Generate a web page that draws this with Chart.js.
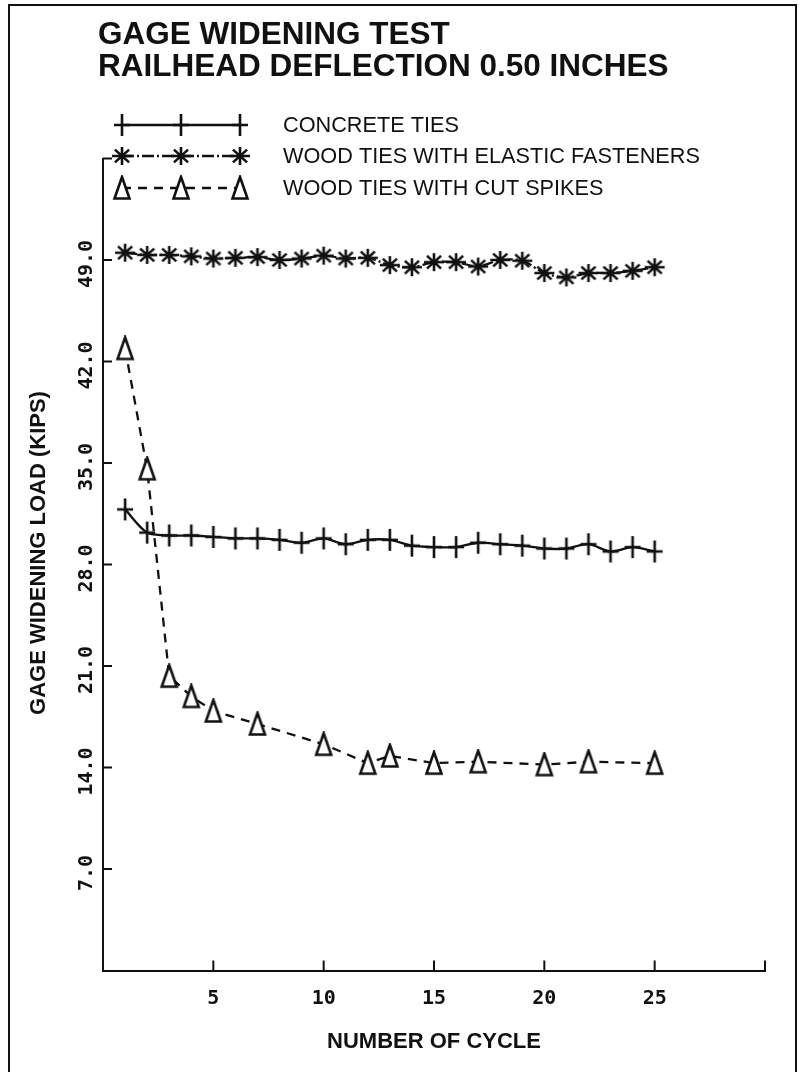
<!DOCTYPE html>
<html>
<head>
<meta charset="utf-8">
<title>Gage widening test</title>
<script src="https://cdn.jsdelivr.net/npm/chart.js@4/dist/chart.umd.min.js"></script>
<style>
  html, body { margin: 0; padding: 0; background: #fff; }
  #wrap { position: relative; width: 801px; height: 1072px; overflow: hidden; }
  #frame { position: absolute; left: 8px; top: 4px; width: 785px; height: 1100px;
           border: 2px solid #111; pointer-events: none; }
  canvas { display: block; }
</style>
</head>
<body>
<div id="wrap">
  <canvas id="chart" width="801" height="1072"></canvas>
  <div id="frame"></div>
</div>
<script>
// data
const cycles = [1, 2, 3, 4, 5, 6, 7, 8, 9, 10, 11, 12, 13, 14, 15, 16, 17, 18, 19, 20, 21, 22, 23, 24, 25];
const concreteLoad = [31.8, 30.2, 30.0, 30.0, 29.9, 29.8, 29.8, 29.7, 29.5, 29.8, 29.4, 29.7, 29.7,
                      29.3, 29.2, 29.2, 29.5, 29.4, 29.3, 29.1, 29.1, 29.4, 28.9, 29.2, 28.9];
const elasticLoad = [49.5, 49.35, 49.35, 49.25, 49.1, 49.15, 49.2, 49.0, 49.1, 49.3, 49.1, 49.15, 48.65,
                     48.5, 48.85, 48.85, 48.55, 49.0, 48.95, 48.1, 47.8, 48.1, 48.1, 48.25, 48.5];
const spikeCycles = [1, 2, 3, 4, 5, 7, 10, 12, 13, 15, 17, 20, 22, 25];
const spikeLoad = [42.9, 34.6, 20.3, 18.9, 17.9, 17.0, 15.6, 14.3, 14.8, 14.3, 14.4, 14.2, 14.4, 14.3];

const seriesNames = ['CONCRETE TIES', 'WOOD TIES WITH ELASTIC FASTENERS', 'WOOD TIES WITH CUT SPIKES'];
const xTicks = [5, 10, 15, 20, 25];
const yTicks = [7, 14, 21, 28, 35, 42, 49];
const titleLines = ['GAGE WIDENING TEST', 'RAILHEAD DEFLECTION 0.50 INCHES'];
const xTitle = 'NUMBER OF CYCLE';
const yTitle = 'GAGE WIDENING LOAD (KIPS)';

const INK = '#111';
const SANS = '"Liberation Sans", Arial, Helvetica, sans-serif';
const MONO = '"DejaVu Sans Mono", "Liberation Mono", monospace';

// plotter style markers
function marker(kind) {
  const c = document.createElement('canvas');
  c.width = 22; c.height = 26;
  const g = c.getContext('2d');
  const cx = 11, cy = 13;
  g.strokeStyle = INK;
  g.lineWidth = 2.6;
  g.beginPath();
  if (kind === 'plus') {
    g.moveTo(cx, cy - 11); g.lineTo(cx, cy + 11);
    g.moveTo(cx - 8, cy); g.lineTo(cx + 8, cy);
    g.stroke();
  } else if (kind === 'star') {
    for (let k = 0; k < 4; k++) {
      const a = k * Math.PI / 4;
      g.moveTo(cx - 10 * Math.cos(a), cy - 9 * Math.sin(a));
      g.lineTo(cx + 10 * Math.cos(a), cy + 9 * Math.sin(a));
    }
    g.stroke();
  } else {
    g.moveTo(cx, cy - 11); g.lineTo(cx + 7.5, cy + 10.5); g.lineTo(cx - 7.5, cy + 10.5);
    g.closePath();
    g.fillStyle = '#fff';
    g.fill();
    g.stroke();
  }
  return c;
}
const markers = [marker('plus'), marker('star'), marker('tri')];
const dashes = [[], [12, 3, 2, 3], [9, 7]];

const pts = (xs, ys) => xs.map((x, i) => ({ x: x, y: ys[i] }));

const ds = (i, data, tension) => ({
  label: seriesNames[i],
  data: data,
  borderColor: INK,
  borderWidth: 2.3,
  borderDash: dashes[i],
  tension: tension,
  pointStyle: markers[i],
  pointRadius: 10,
  pointHoverRadius: 10
});

// title, legend, inward ticks, rotated y labels
const decorations = {
  id: 'decorations',
  afterDraw(chart) {
    const ctx = chart.ctx;
    const xs = chart.scales.x, ys = chart.scales.y;
    ctx.save();
    ctx.fillStyle = INK;
    ctx.strokeStyle = INK;

    ctx.font = 'bold 31.5px ' + SANS;
    ctx.textBaseline = 'alphabetic';
    ctx.fillText(titleLines[0], 98, 44);
    ctx.fillText(titleLines[1], 98, 76);

    const rowY = [125, 156, 188];
    const sx = [122, 181, 240];
    ctx.font = '21.7px ' + SANS;
    ctx.textBaseline = 'middle';
    for (let i = 0; i < 3; i++) {
      ctx.lineWidth = 2.3;
      ctx.setLineDash(dashes[i]);
      ctx.beginPath();
      ctx.moveTo(sx[0], rowY[i]);
      ctx.lineTo(sx[2], rowY[i]);
      ctx.stroke();
      ctx.setLineDash([]);
      sx.forEach(x => ctx.drawImage(markers[i], x - 11, rowY[i] - 13));
      ctx.fillText(seriesNames[i], 283, rowY[i] + 1);
    }

    // ticks point into the plot
    ctx.lineWidth = 2;
    ctx.beginPath();
    [5, 10, 15, 20, 25, 30].forEach(v => {
      const px = xs.getPixelForValue(v);
      ctx.moveTo(px, xs.top);
      ctx.lineTo(px, xs.top - 10);
    });
    yTicks.concat([56]).forEach(v => {
      const py = ys.getPixelForValue(v);
      ctx.moveTo(ys.right, py);
      ctx.lineTo(ys.right + 9, py);
    });
    ctx.stroke();

    ctx.textAlign = 'center';
    ctx.textBaseline = 'middle';
    ctx.font = 'bold 20px ' + MONO;
    yTicks.forEach(v => {
      ctx.save();
      ctx.translate(87, ys.getPixelForValue(v) + 4);
      ctx.rotate(-Math.PI / 2);
      ctx.fillText(v.toFixed(1), 0, 0);
      ctx.restore();
    });

    ctx.font = 'bold 22px ' + SANS;
    ctx.translate(39, 553);
    ctx.rotate(-Math.PI / 2);
    ctx.fillText(yTitle, 0, 0);
    ctx.restore();
  }
};

new Chart(document.getElementById('chart'), {
  type: 'line',
  data: {
    datasets: [
      ds(0, pts(cycles, concreteLoad), 0.3),
      ds(1, pts(cycles, elasticLoad), 0.3),
      ds(2, pts(spikeCycles, spikeLoad), 0)
    ]
  },
  options: {
    responsive: false,
    animation: false,
    layout: { padding: { top: 158.5, right: 36, bottom: 0, left: 0 } },
    plugins: {
      legend: { display: false },
      tooltip: { enabled: false }
    },
    scales: {
      x: {
        type: 'linear',
        min: 0, max: 30,
        afterFit: s => { s.height = 101.5; },
        grid: { display: false, drawTicks: false },
        border: { display: true, color: INK, width: 2 },
        ticks: {
          stepSize: 5, autoSkip: false, maxRotation: 0, padding: 16,
          color: INK, font: { family: MONO, size: 20, weight: 'bold' },
          callback: v => xTicks.includes(v) ? String(v) : ''
        },
        title: {
          display: true, text: xTitle, color: INK,
          font: { family: SANS, size: 22, weight: 'bold' },
          padding: { top: 0, bottom: 17 }
        }
      },
      y: {
        min: 0, max: 56,
        afterFit: s => { s.width = 103; },
        grid: { display: false, drawTicks: false },
        border: { display: true, color: INK, width: 2 },
        ticks: { stepSize: 7, display: false },
        title: { display: false }
      }
    }
  },
  plugins: [decorations]
});
</script>
</body>
</html>
